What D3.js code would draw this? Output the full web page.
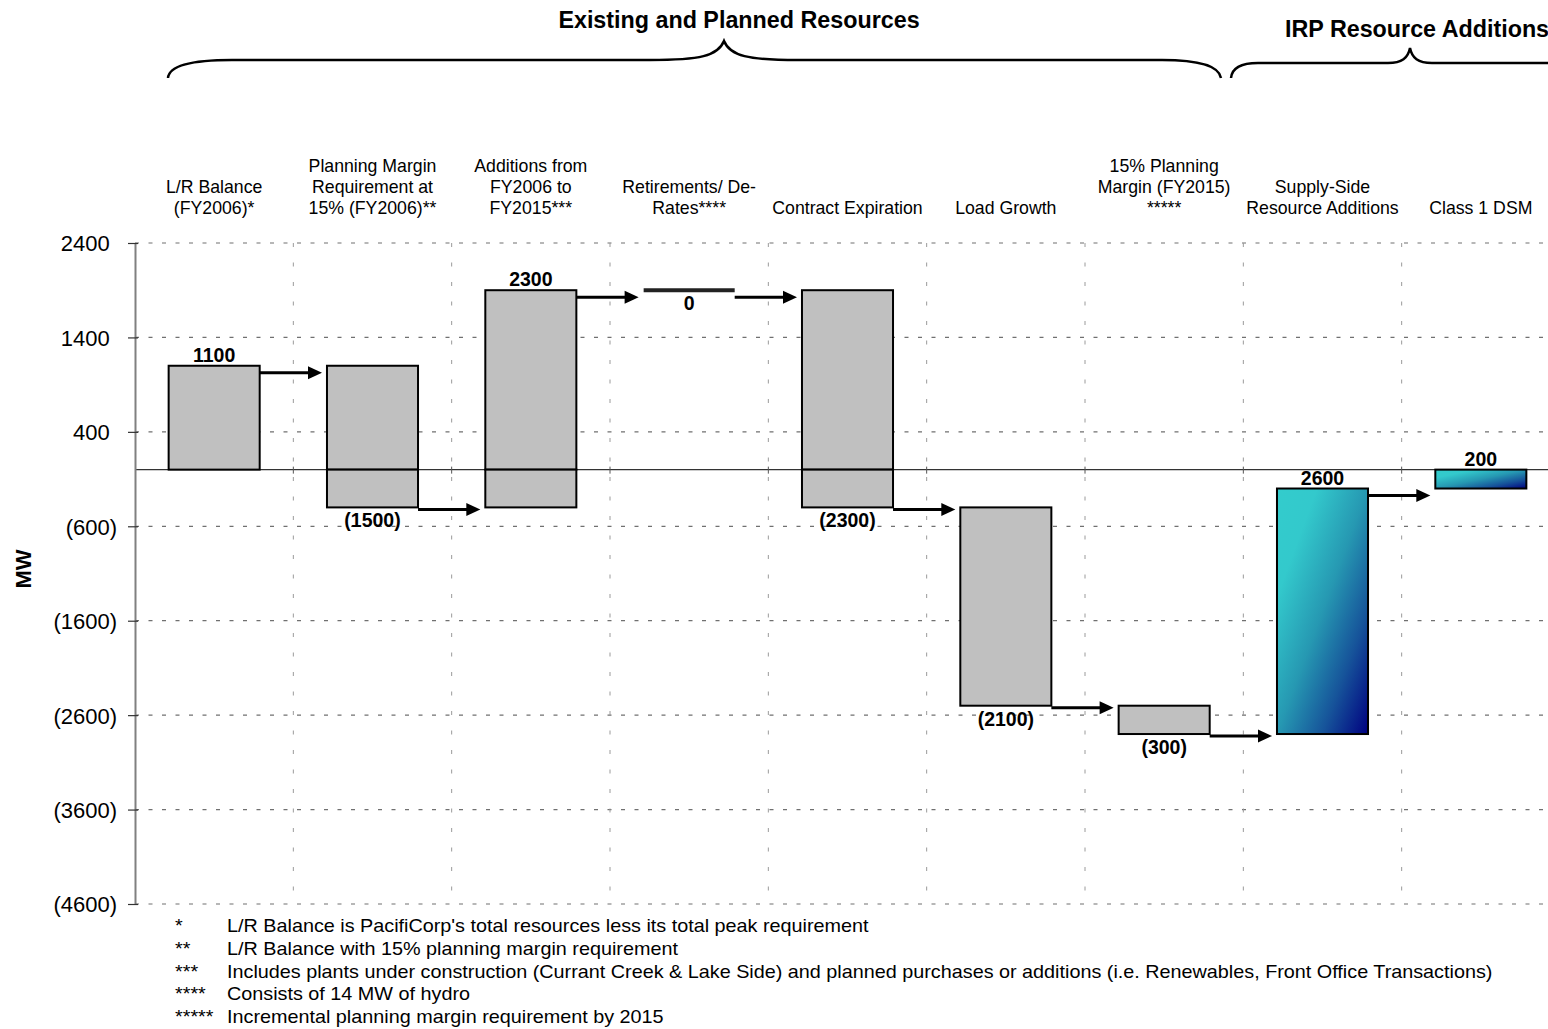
<!DOCTYPE html>
<html><head><meta charset="utf-8">
<script src="https://cdn.jsdelivr.net/npm/d3@7"></script>
<style>html,body{margin:0;padding:0;background:#fff;overflow:hidden}svg{display:block}</style>
</head><body><svg id="c" width="1548" height="1029"></svg>
<script>
// ---------------- data ----------------
const categories = [
  ["L/R Balance", "(FY2006)*"],
  ["Planning Margin", "Requirement at", "15% (FY2006)**"],
  ["Additions from", "FY2006 to", "FY2015***"],
  ["Retirements/ De-", "Rates****"],
  ["Contract Expiration"],
  ["Load Growth"],
  ["15% Planning", "Margin (FY2015)", "*****"],
  ["Supply-Side", "Resource Additions"],
  ["Class 1 DSM"]
];
const values = [1100, -1500, 2300, 0, -2300, -2100, -300, 2600, 200];
const groups = ["existing", "existing", "existing", "existing", "existing", "existing", "existing", "irp", "irp"];
const yTicks = [2400, 1400, 400, -600, -1600, -2600, -3600, -4600];
const groupTitles = ["Existing and Planned Resources", "IRP Resource Additions"];
const footnoteMarks = ["*", "**", "***", "****", "*****"];
const footnotes = [
  "L/R Balance is PacifiCorp's total resources less its total peak requirement",
  "L/R Balance with 15%  planning margin requirement",
  "Includes plants under construction (Currant Creek & Lake Side) and planned purchases or additions (i.e. Renewables, Front Office Transactions)",
  "Consists of 14 MW of hydro",
  "Incremental planning margin requirement by 2015"
];
const yTitle = "MW";

// ---------------- layout ----------------
const FONT = "'Liberation Sans', Arial, Helvetica, sans-serif";
const svg = d3.select("#c");
const plotL = 135, plotR = 1560, plotT = 243, plotB = 904;

const x = d3.scaleBand().domain(d3.range(categories.length))
  .range([plotL, plotR]).paddingInner(0.425).paddingOuter(0.2125);
const y = d3.scaleLinear().domain([-4600, 2400]).range([plotB, plotT]);
const bw = x.bandwidth();
const step = x.step();

// running totals
const starts = [], ends = [];
let acc = 0;
values.forEach((v, i) => { starts.push(acc); acc += v; ends.push(acc); });

const fmt = v => v < 0 ? "(" + Math.abs(v) + ")" : String(v);

// gradient
const defs = svg.append("defs");
const grad = defs.append("linearGradient").attr("id", "irpGrad")
  .attr("x1", 0).attr("y1", 0).attr("x2", 1).attr("y2", 1);
[[0, "#33CCCC"], [0.22, "#33C9CC"], [0.5, "#2698B2"], [0.75, "#16539A"], [1, "#000080"]]
  .forEach(([o, c]) => grad.append("stop").attr("offset", o).attr("stop-color", c));

// ---------------- grid ----------------
const grid = svg.append("g");
grid.selectAll("line.h").data(yTicks).join("line")
  .attr("x1", plotL).attr("x2", plotR)
  .attr("y1", d => y(d)).attr("y2", d => y(d))
  .attr("stroke", "#707070").attr("stroke-width", 1.2).attr("stroke-dasharray", "4,9.5");
const bounds = d3.range(1, categories.length + 1).map(i => plotL + i * step);
grid.selectAll("line.v").data(bounds).join("line")
  .attr("x1", d => d).attr("x2", d => d)
  .attr("y1", plotT).attr("y2", plotB)
  .attr("stroke", "#9a9a9a").attr("stroke-width", 1).attr("stroke-dasharray", "4,15.5");

// zero line
svg.append("line").attr("x1", plotL).attr("x2", plotR)
  .attr("y1", y(0)).attr("y2", y(0)).attr("stroke", "#333").attr("stroke-width", 1.3);
svg.append("g").selectAll("line").data(bounds).join("line")
  .attr("x1", d => d).attr("x2", d => d)
  .attr("y1", y(0) - 3).attr("y2", y(0) + 4).attr("stroke", "#555").attr("stroke-width", 1);

// ---------------- y axis ----------------
const yAxis = d3.axisLeft(y).tickValues(yTicks).tickSize(7).tickSizeOuter(0).tickFormat(fmt);
const ga = svg.append("g").attr("transform", `translate(${plotL},0)`).call(yAxis);
ga.select(".domain").attr("stroke", "#808080").attr("stroke-width", 2);
ga.selectAll(".tick line").attr("x1", 3).attr("x2", -7).attr("stroke", "#333").attr("stroke-width", 1.2);
ga.selectAll(".tick text")
  .attr("x", d => d < 0 ? -18 : -25.3)
  .attr("dy", "0.36em")
  .style("font-family", FONT).style("font-size", "22px").attr("fill", "#000");

svg.append("text").attr("transform", `translate(31,569) rotate(-90)`)
  .attr("text-anchor", "middle")
  .style("font-family", FONT).style("font-size", "22px").style("font-weight", "bold")
  .text(yTitle);

// ---------------- bars ----------------
const barG = svg.append("g");
values.forEach((v, i) => {
  const x0 = x(i);
  if (v === 0) {
    barG.append("line").attr("x1", x0).attr("x2", x0 + bw)
      .attr("y1", y(ends[i])).attr("y2", y(ends[i]))
      .attr("stroke", "#222").attr("stroke-width", 4);
    return;
  }
  const lo = Math.min(starts[i], ends[i]), hi = Math.max(starts[i], ends[i]);
  const pieces = (lo < 0 && hi > 0) ? [[0, hi], [lo, 0]] : [[lo, hi]];
  pieces.forEach(([a, b]) => {
    barG.append("rect")
      .attr("x", x0).attr("width", bw)
      .attr("y", y(b)).attr("height", y(a) - y(b))
      .attr("fill", groups[i] === "irp" ? "url(#irpGrad)" : "#C0C0C0")
      .attr("stroke", "#000").attr("stroke-width", 2);
  });
});

// value labels
svg.append("g").selectAll("text").data(values).join("text")
  .attr("x", (d, i) => x(i) + bw / 2)
  .attr("y", (d, i) => d > 0 ? y(Math.max(starts[i], ends[i])) - 4 : y(Math.min(starts[i], ends[i])) + 20)
  .attr("text-anchor", "middle")
  .style("font-family", FONT).style("font-size", "19.5px").style("font-weight", "bold")
  .text(d => fmt(d));

// arrows
const arrG = svg.append("g");
for (let i = 0; i < values.length - 1; i++) {
  const yy = y(ends[i]) + (values[i] >= 0 ? 7 : 2);
  const xs = x(i) + bw, xe = x(i + 1) - 5;
  arrG.append("line").attr("x1", xs).attr("x2", xe - 11).attr("y1", yy).attr("y2", yy)
    .attr("stroke", "#000").attr("stroke-width", 3);
  arrG.append("path")
    .attr("d", `M${xe},${yy} L${xe - 14},${yy - 6.5} L${xe - 14},${yy + 6.5} Z`)
    .attr("fill", "#000");
}

// category labels
const catG = svg.append("g");
categories.forEach((lines, i) => {
  const n = lines.length;
  lines.forEach((t, k) => {
    catG.append("text")
      .attr("x", x(i) + bw / 2).attr("y", 214 - (n - 1 - k) * 21)
      .attr("text-anchor", "middle")
      .style("font-family", FONT).style("font-size", "17.7px")
      .text(t);
  });
});

// group braces & titles
svg.append("path")
  .attr("d", "M168,78 C169,66 190,60 232,60 L650,60 C700,60 718,56 724,41 C730,56 748,60 798,60 L1162,60 C1200,60 1219,66 1221,78")
  .attr("fill", "none").attr("stroke", "#000").attr("stroke-width", 2.5);
svg.append("path")
  .attr("d", "M1231,78 C1232,68 1240,63 1258,63 L1388,63 C1402,63 1408,58 1410,48 C1412,58 1418,63 1432,63 L1565,63")
  .attr("fill", "none").attr("stroke", "#000").attr("stroke-width", 2.5);
svg.append("text").attr("x", 739).attr("y", 28).attr("text-anchor", "middle")
  .style("font-family", FONT).style("font-size", "23.3px").style("font-weight", "bold")
  .text(groupTitles[0]);
svg.append("text").attr("x", 1285).attr("y", 37).attr("text-anchor", "start")
  .style("font-family", FONT).style("font-size", "23.3px").style("font-weight", "bold")
  .text(groupTitles[1]);

// footnotes (source text is horizontally wider than its height suggests)
const fnG = svg.append("g").style("font-family", FONT).style("font-size", "18px").style("white-space", "pre");
footnotes.forEach((t, i) => {
  const by = 932 + i * 22.75;
  fnG.append("text").attr("transform", `translate(175,${by}) scale(1.1,1)`).text(footnoteMarks[i]);
  fnG.append("text").attr("transform", `translate(227,${by}) scale(1.1,1)`).text(t);
});
</script>
</body></html>
